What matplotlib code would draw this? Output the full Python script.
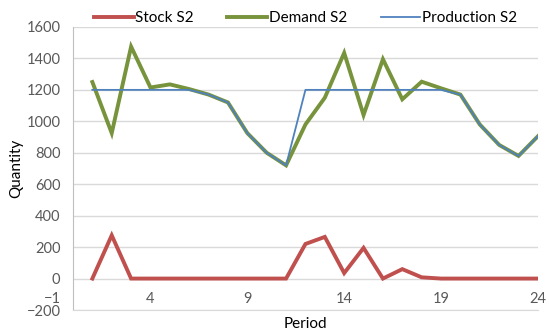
import matplotlib
matplotlib.use("Agg")
import matplotlib.pyplot as plt

# data
periods = list(range(1, 25))
stock_s2 = [0, 275, 0, 0, 0, 0, 0, 0, 0, 0, 0, 220,
            265, 35, 195, 0, 60, 8, 0, 0, 0, 0, 0, 0]
demand_s2 = [1250, 925, 1475, 1215, 1235, 1205, 1170, 1120, 925, 800, 720, 980,
             1150, 1435, 1040, 1395, 1140, 1252, 1210, 1170, 980, 850, 780, 905]
production_s2 = [1200, 1200, 1200, 1200, 1200, 1200, 1170, 1120, 925, 800, 720, 1200,
                 1200, 1200, 1200, 1200, 1200, 1200, 1200, 1170, 980, 850, 780, 905]
x_ticks = [4, 9, 14, 19, 24]
y_ticks = [-200, 0, 200, 400, 600, 800, 1000, 1200, 1400, 1600]

plt.rcParams['font.family'] = ['Lato', 'DejaVu Sans']

fig = plt.figure(figsize=(5.5, 3.33), dpi=100)
ax = fig.add_axes([0.1327, 0.069, 0.8453, 0.85])

ax.plot(periods, stock_s2, color='#C0504D', lw=2.8, label='Stock S2', solid_joinstyle='miter')
ax.plot(periods, demand_s2, color='#77933C', lw=2.8, label='Demand S2', solid_joinstyle='miter')
ax.plot(periods, production_s2, color='#4F81BD', lw=1.3, label='Production S2')

ax.set_xlim(0, 24)
ax.set_ylim(-200, 1600)
ax.set_yticks(y_ticks)
ax.set_yticks([-120], ['\u22121'], minor=True)
ax.set_xticks(x_ticks)
ax.grid(axis='y', which='major', color='#D9D9D9', lw=1)
ax.set_axisbelow(True)

for s in ['top', 'right']:
    ax.spines[s].set_visible(False)
ax.spines['left'].set_color('#BFBFBF')
ax.spines['bottom'].set_color('#D9D9D9')

ax.tick_params(axis='y', which='both', length=0, pad=9, labelsize=10.5, labelcolor='#595959')
ax.tick_params(axis='x', length=0, pad=-13, labelsize=10.5, labelcolor='#595959')

ax.set_xlabel('Period', fontsize=11, labelpad=5)
ax.set_ylabel('Quantity', fontsize=11, labelpad=2)

ax.legend(loc='lower center', bbox_to_anchor=(0.5, 0.985), ncol=3, frameon=False,
          fontsize=11, handlelength=2.6, handletextpad=0.1, columnspacing=2.2,
          borderaxespad=0)

fig.savefig('out.png', dpi=100)
